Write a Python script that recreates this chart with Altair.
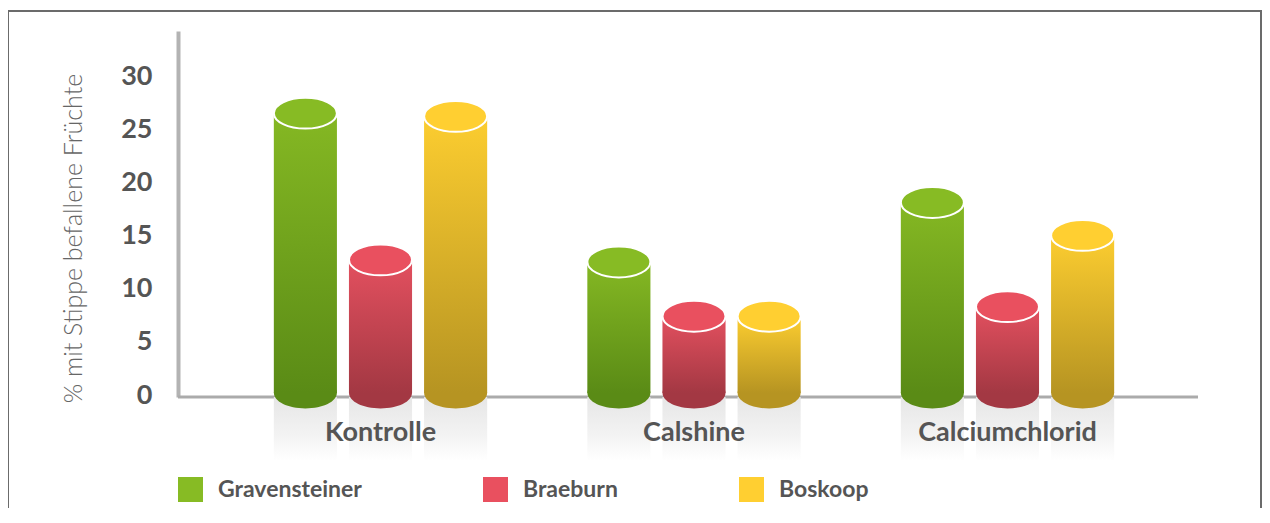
import altair as alt
import pandas as pd

# ---- data ----
groups = ["Kontrolle", "Calshine", "Calciumchlorid"]
series = ["Gravensteiner", "Braeburn", "Boskoop"]
gravensteiner = [26.7, 12.7, 18.3]
braeburn = [12.9, 7.6, 8.5]
boskoop = [26.4, 7.6, 15.2]
y_ticks = [0, 5, 10, 15, 20, 25, 30]
y_title = "% mit Stippe befallene Früchte"

# ---- styles ----
top_colors = ["#87BB24", "#E9505F", "#FFCF31"]
body_top = ["#85B823", "#E3505F", "#FCCD30"]
body_bottom = ["#5A8B16", "#A33843", "#B69422"]
FONT = "Lato"
TXT = "#555555"

rows = []
for s, vals in zip(series, [gravensteiner, braeburn, boskoop]):
    for g, v in zip(groups, vals):
        rows.append({"group": g, "series": s, "value": v})
df = pd.DataFrame(rows)

ell_ry = 0.49
k = 0.5523
ell = (f"M-1,0C-1,{-k*ell_ry:.4f},{-k:.4f},{-ell_ry},0,{-ell_ry}"
       f"C{k:.4f},{-ell_ry},1,{-k*ell_ry:.4f},1,0"
       f"C1,{k*ell_ry:.4f},{k:.4f},{ell_ry},0,{ell_ry}"
       f"C{-k:.4f},{ell_ry},-1,{k*ell_ry:.4f},-1,0Z")
BAR_W = 63
W, H = 1020, 366

x_enc = alt.X("group:N", sort=groups,
              scale=alt.Scale(range=[45.75, 986.25], paddingInner=0, paddingOuter=0),
              axis=alt.Axis(title=None, labels=False, ticks=False, tickSize=0,
                            grid=False, domain=False))
xo_enc = alt.XOffset("series:N", sort=series,
                     scale=alt.Scale(domain=series, paddingInner=0.16, paddingOuter=0.6667))
y_scale = alt.Scale(domain=[0, 34.43], nice=False, zero=True)
y_axis = alt.Axis(values=y_ticks, title=y_title, ticks=False, tickSize=0,
                  labelFont=FONT, labelFontWeight="bold", labelFontSize=27,
                  labelColor=TXT, labelPadding=26, labelOffset=-2,
                  domainColor="#b3b3b3", domainWidth=4,
                  gridColor="#e4e4e4", gridWidth=2,
                  titleFont=FONT, titleFontWeight=300, titleFontSize=25,
                  titleColor="#666666", titleAngle=270, titleAlign="center",
                  titleBaseline="middle", titleX=-105, titleY=207)
y_enc = alt.Y("value:Q", scale=y_scale, axis=y_axis)

base = alt.Chart(df)
one = alt.Chart(pd.DataFrame({"frame": [0]}))

frame = one.mark_rect(fill=None, stroke="#6b6b6b", strokeWidth=2).encode(
    x=alt.value(-170), x2=alt.value(1083), y=alt.value(-20), y2=alt.value(700))

x_domain = one.mark_rule(color="#ababab", strokeWidth=3).encode(
    x=alt.value(0), x2=alt.value(W), y=alt.value(H))

reflection = base.mark_bar(
    color=alt.Gradient(gradient="linear", x1=0, x2=0, y1=0, y2=1,
                       stops=[alt.GradientStop(color="#e6e6e6", offset=0),
                              alt.GradientStop(color="#f3f3f3", offset=0.6),
                              alt.GradientStop(color="#ffffff", offset=1)])
).encode(x=x_enc, xOffset=xo_enc, y=alt.datum(0, scale=y_scale, axis=y_axis),
         y2=alt.datum(-6))

bottoms = []
bodies = []
for s, ct, cb in zip(series, body_top, body_bottom):
    sub = base.transform_filter(alt.datum.series == s)
    bottoms.append(
        sub.mark_point(shape=ell, size=BAR_W * BAR_W, filled=True, opacity=1,
                       strokeWidth=0, yOffset=-4, color=cb)
        .encode(x=x_enc, xOffset=xo_enc, y=alt.datum(0))
    )
    bodies.append(
        sub.mark_bar(
            y2Offset=-4,
            color=alt.Gradient(gradient="linear", x1=0, x2=0, y1=0, y2=1,
                               stops=[alt.GradientStop(color=ct, offset=0),
                                      alt.GradientStop(color=cb, offset=1)])
        ).encode(x=x_enc, xOffset=xo_enc, y=y_enc, y2=alt.datum(0))
    )

tops = base.mark_point(shape=ell, size=BAR_W * BAR_W, filled=True, opacity=1,
                       stroke="white", strokeWidth=2).encode(
    x=x_enc, xOffset=xo_enc, y=y_enc,
    color=alt.Color("series:N", sort=series,
                    scale=alt.Scale(domain=series, range=top_colors),
                    legend=alt.Legend(title=None, orient="none", legendX=0, legendY=446,
                                      direction="horizontal", columns=3,
                                      symbolType="square", symbolSize=625,
                                      symbolStrokeWidth=0, symbolOpacity=1,
                                      labelFont=FONT, labelFontSize=23,
                                      labelFontWeight="bold", labelColor=TXT,
                                      labelOffset=15, columnPadding=121, padding=0)))

labels = base.transform_filter(alt.datum.series == series[0]).mark_text(
    font=FONT, fontWeight="bold", fontSize=27, color=TXT, baseline="middle"
).encode(x=x_enc, y=alt.value(402), text="group:N")

chart = alt.layer(frame, x_domain, reflection, *bottoms, *bodies, tops, labels).properties(
    width=W, height=H,
    autosize=alt.AutoSizeParams(type="none"),
    padding={"left": 170, "top": 23, "right": 64, "bottom": 111},
    background="white",
).configure_view(stroke=None)

chart.save("out.html", embed_options={"renderer": "svg", "actions": False})
